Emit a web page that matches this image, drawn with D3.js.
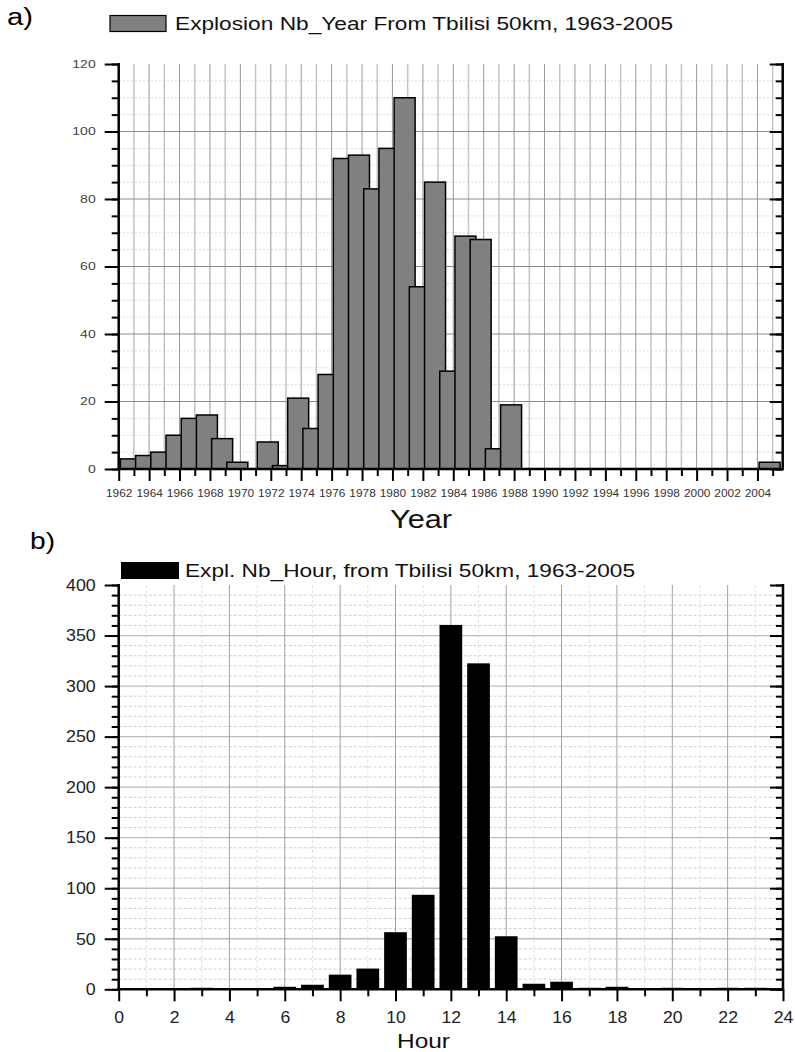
<!DOCTYPE html>
<html><head><meta charset="utf-8">
<script src="https://cdn.jsdelivr.net/npm/d3@7"></script>
<style>body{margin:0;background:#fff} svg{display:block} text{font-family:"Liberation Sans",Arial,sans-serif}</style>
</head><body>
<svg id="c" width="795" height="1052"></svg>
<script>
// ---- Data: panel a (bins start at the tick year) ----
const yearBins = [1962,1963,1964,1965,1966,1967,1968,1969,1970,1971,1972,1973,1974,1975,1976,1977,1978,1979,1980,1981,1982,1983,1984,1985,1986,1987,1988,1989,1990,1991,1992,1993,1994,1995,1996,1997,1998,1999,2000,2001,2002,2003,2004];
const yearCounts = [3,4,5,10,15,16,9,2,0,8,1,21,12,28,92,93,83,95,110,54,85,29,69,68,6,19,0,0,0,0,0,0,0,0,0,0,0,0,0,0,0,0,2];
const yearTickLabels = [1962,1964,1966,1968,1970,1972,1974,1976,1978,1980,1982,1984,1986,1988,1990,1992,1994,1996,1998,2000,2002,2004];
const yearYTicks = [0,20,40,60,80,100,120];
const legendA = "Explosion Nb_Year From Tbilisi 50km, 1963-2005";

// ---- Data: panel b ----
const hours = [0,1,2,3,4,5,6,7,8,9,10,11,12,13,14,15,16,17,18,19,20,21,22,23];
const hourCounts = [0,0,0,1,0,0,2,4,14,20,56,93,360,322,52,5,7,1,2,0,1,0,1,1];
const hourTickLabels = [0,2,4,6,8,10,12,14,16,18,20,22,24];
const hourYTicks = [0,50,100,150,200,250,300,350,400];
const legendB = "Expl. Nb_Hour, from Tbilisi 50km, 1963-2005";

const svg = d3.select("#c");
const FONT = "Liberation Sans, Arial, sans-serif";
const stretch = (sel, perChar) => sel.attr("textLength", d => String(d).length * perChar).attr("lengthAdjust", "spacingAndGlyphs");

// ================= Panel a =================
{
  const L = 118.7, R = 782.7, T = 64, B = 469;
  const x = d3.scaleLinear().domain([1962, 2005.66]).range([L, R]);
  const y = d3.scaleLinear().domain([0, 120]).range([B, T]);
  const g = svg.append("g");

  svg.append("text").attr("x", 7).attr("y", 25).attr("font-size", 23).attr("textLength", 26).attr("lengthAdjust", "spacingAndGlyphs").text("a)");
  svg.append("rect").attr("x", 110).attr("y", 15.5).attr("width", 56).attr("height", 16)
    .attr("fill", "#808080").attr("stroke", "#000").attr("stroke-width", 1.2);
  svg.append("text").attr("x", 175).attr("y", 30).attr("font-size", 17.5).attr("fill", "#111")
    .attr("textLength", 498).attr("lengthAdjust", "spacingAndGlyphs").text(legendA);

  // minor horizontal grid (every 5)
  g.selectAll(".hm").data(d3.range(5, 120, 5).filter(v => v % 20 !== 0)).join("line")
    .attr("x1", L).attr("x2", R).attr("y1", d => y(d)).attr("y2", d => y(d))
    .attr("stroke", "#d8d8d8").attr("stroke-width", 1).attr("stroke-dasharray", "2,2");
  // vertical grid each year
  g.selectAll(".vg").data(d3.range(1963, 2006)).join("line")
    .attr("x1", d => x(d)).attr("x2", d => x(d)).attr("y1", T).attr("y2", B)
    .attr("stroke", d => d % 2 === 0 ? "#8c8c8c" : "#c4c4c4")
    .attr("stroke-width", d => d % 2 === 0 ? 0.9 : 1.5);
  // major horizontal grid
  g.selectAll(".hM").data([20, 40, 60, 80, 100]).join("line")
    .attr("x1", L).attr("x2", R).attr("y1", d => y(d)).attr("y2", d => y(d))
    .attr("stroke", "#8c8c8c").attr("stroke-width", 1);

  // bars (drawn in order, later on top)
  const data = yearBins.map((b, i) => ({ b, v: yearCounts[i] })).filter(d => d.v > 0);
  g.selectAll(".bar").data(data).join("rect")
    .attr("x", d => x(d.b + 0.11)).attr("width", d => x(d.b + 1.49) - x(d.b + 0.11))
    .attr("y", d => y(d.v)).attr("height", d => y(0) - y(d.v))
    .attr("fill", "#808080").attr("stroke", "#000").attr("stroke-width", 1.5);

  // axes
  const la = g.append("g").attr("transform", `translate(${L},0)`);
  la.append("g").call(d3.axisLeft(y).tickValues(d3.range(0, 121, 5)).tickSize(7).tickFormat(""));
  la.append("g").call(d3.axisLeft(y).tickValues(yearYTicks).tickSize(14).tickPadding(9).tickFormat(d3.format("d")));
  la.selectAll("path").remove();
  la.selectAll("line").attr("stroke", "#000").attr("stroke-width", 2);
  la.selectAll("text").attr("font-size", 10.5).attr("fill", "#444").attr("font-family", FONT);
  stretch(la.selectAll("text"), 7.8);

  const ra = g.append("g").attr("transform", `translate(${R},0)`);
  ra.append("g").call(d3.axisLeft(y).tickValues(d3.range(0, 121, 5)).tickSize(7).tickFormat(""));
  ra.append("g").call(d3.axisLeft(y).tickValues(yearYTicks).tickSize(13).tickFormat(""));
  ra.selectAll("path").remove();
  ra.selectAll("line").attr("stroke", "#000").attr("stroke-width", 2);

  const ba = g.append("g").attr("transform", `translate(0,${B})`);
  ba.append("g").call(d3.axisBottom(x).tickValues(d3.range(1963, 2006, 2)).tickSize(7).tickFormat(""));
  ba.append("g").call(d3.axisBottom(x).tickValues(yearTickLabels).tickSize(12).tickPadding(9).tickFormat(d3.format("d")));
  ba.selectAll("path").remove();
  ba.selectAll("line").attr("stroke", "#000").attr("stroke-width", 2);
  ba.selectAll("text").attr("font-size", 10).attr("fill", "#333").attr("font-family", FONT);
  stretch(ba.selectAll("text"), 6.6);

  g.append("line").attr("x1", L).attr("x2", L).attr("y1", T - 1).attr("y2", B + 1).attr("stroke", "#000").attr("stroke-width", 2.5);
  g.append("line").attr("x1", R).attr("x2", R).attr("y1", T - 1).attr("y2", B + 1).attr("stroke", "#000").attr("stroke-width", 2.5);
  g.append("line").attr("x1", L - 1).attr("x2", R + 1).attr("y1", B).attr("y2", B).attr("stroke", "#000").attr("stroke-width", 2.5);

  svg.append("text").attr("x", 390).attr("y", 528).attr("font-size", 25).attr("fill", "#111")
    .attr("textLength", 62).attr("lengthAdjust", "spacingAndGlyphs").text("Year");
}

// ================= Panel b =================
{
  const L = 118.7, R = 783, T = 585, B = 989.3;
  const x = d3.scaleLinear().domain([0, 24]).range([L, R]);
  const y = d3.scaleLinear().domain([0, 400]).range([B, T]);
  const g = svg.append("g");

  svg.append("text").attr("x", 30).attr("y", 549).attr("font-size", 24).attr("textLength", 25).attr("lengthAdjust", "spacingAndGlyphs").text("b)");
  svg.append("rect").attr("x", 121).attr("y", 562).attr("width", 58).attr("height", 17).attr("fill", "#000");
  svg.append("text").attr("x", 185).attr("y", 577).attr("font-size", 18.5).attr("fill", "#111")
    .attr("textLength", 450).attr("lengthAdjust", "spacingAndGlyphs").text(legendB);

  // minor horizontal (every 10), dashed
  g.selectAll(".hm").data(d3.range(10, 400, 10).filter(v => v % 50 !== 0)).join("line")
    .attr("x1", L).attr("x2", R).attr("y1", d => y(d)).attr("y2", d => y(d))
    .attr("stroke", "#cfcfcf").attr("stroke-width", 1).attr("stroke-dasharray", "3,2");
  // odd-hour vertical, faint dashed
  g.selectAll(".vm").data(d3.range(1, 24, 2)).join("line")
    .attr("x1", d => x(d)).attr("x2", d => x(d)).attr("y1", T).attr("y2", B)
    .attr("stroke", "#e2e2e2").attr("stroke-width", 1).attr("stroke-dasharray", "3,2");
  // major horizontal
  g.selectAll(".hM").data([50, 100, 150, 200, 250, 300, 350]).join("line")
    .attr("x1", L).attr("x2", R).attr("y1", d => y(d)).attr("y2", d => y(d))
    .attr("stroke", "#bdbdbd").attr("stroke-width", 1.3);
  // even-hour vertical
  g.selectAll(".vM").data(d3.range(2, 24, 2)).join("line")
    .attr("x1", d => x(d)).attr("x2", d => x(d)).attr("y1", T).attr("y2", B)
    .attr("stroke", "#a0a0a0").attr("stroke-width", 1);

  const data = hours.map((h, i) => ({ h, v: hourCounts[i] })).filter(d => d.v > 0);
  g.selectAll(".bar").data(data).join("rect")
    .attr("x", d => x(d.h - 0.41)).attr("width", d => x(d.h + 0.41) - x(d.h - 0.41))
    .attr("y", d => y(d.v) - 0.5).attr("height", d => y(0) - y(d.v) + 0.5)
    .attr("fill", "#000");

  const la = g.append("g").attr("transform", `translate(${L},0)`);
  la.append("g").call(d3.axisLeft(y).tickValues(d3.range(0, 401, 10)).tickSize(7).tickFormat(""));
  la.append("g").call(d3.axisLeft(y).tickValues(hourYTicks).tickSize(14).tickPadding(9).tickFormat(d3.format("d")));
  la.selectAll("path").remove();
  la.selectAll("line").attr("stroke", "#000").attr("stroke-width", 2);
  la.selectAll("text").attr("font-size", 16.5).attr("fill", "#222").attr("font-family", FONT);
  stretch(la.selectAll("text"), 9.9);

  const ra = g.append("g").attr("transform", `translate(${R},0)`);
  ra.append("g").call(d3.axisLeft(y).tickValues(d3.range(0, 401, 10)).tickSize(7).tickFormat(""));
  ra.append("g").call(d3.axisLeft(y).tickValues(hourYTicks).tickSize(13).tickFormat(""));
  ra.selectAll("path").remove();
  ra.selectAll("line").attr("stroke", "#000").attr("stroke-width", 2);

  const ba = g.append("g").attr("transform", `translate(0,${B})`);
  ba.append("g").call(d3.axisBottom(x).tickValues(d3.range(1, 24, 2)).tickSize(7).tickFormat(""));
  ba.append("g").call(d3.axisBottom(x).tickValues(hourTickLabels).tickSize(12).tickPadding(10).tickFormat(d3.format("d")));
  ba.selectAll("path").remove();
  ba.selectAll("line").attr("stroke", "#000").attr("stroke-width", 2);
  ba.selectAll("text").attr("font-size", 16.5).attr("fill", "#222").attr("font-family", FONT);
  stretch(ba.selectAll("text"), 9.8);

  g.append("line").attr("x1", L).attr("x2", L).attr("y1", T - 1).attr("y2", B + 1).attr("stroke", "#000").attr("stroke-width", 2.5);
  g.append("line").attr("x1", R).attr("x2", R).attr("y1", T - 1).attr("y2", B + 1).attr("stroke", "#000").attr("stroke-width", 2.5);
  g.append("line").attr("x1", L - 1).attr("x2", R + 1).attr("y1", B).attr("y2", B).attr("stroke", "#000").attr("stroke-width", 2.5);

  svg.append("text").attr("x", 397).attr("y", 1048).attr("font-size", 20).attr("fill", "#111")
    .attr("textLength", 53).attr("lengthAdjust", "spacingAndGlyphs").text("Hour");
}
</script>
</body></html>
